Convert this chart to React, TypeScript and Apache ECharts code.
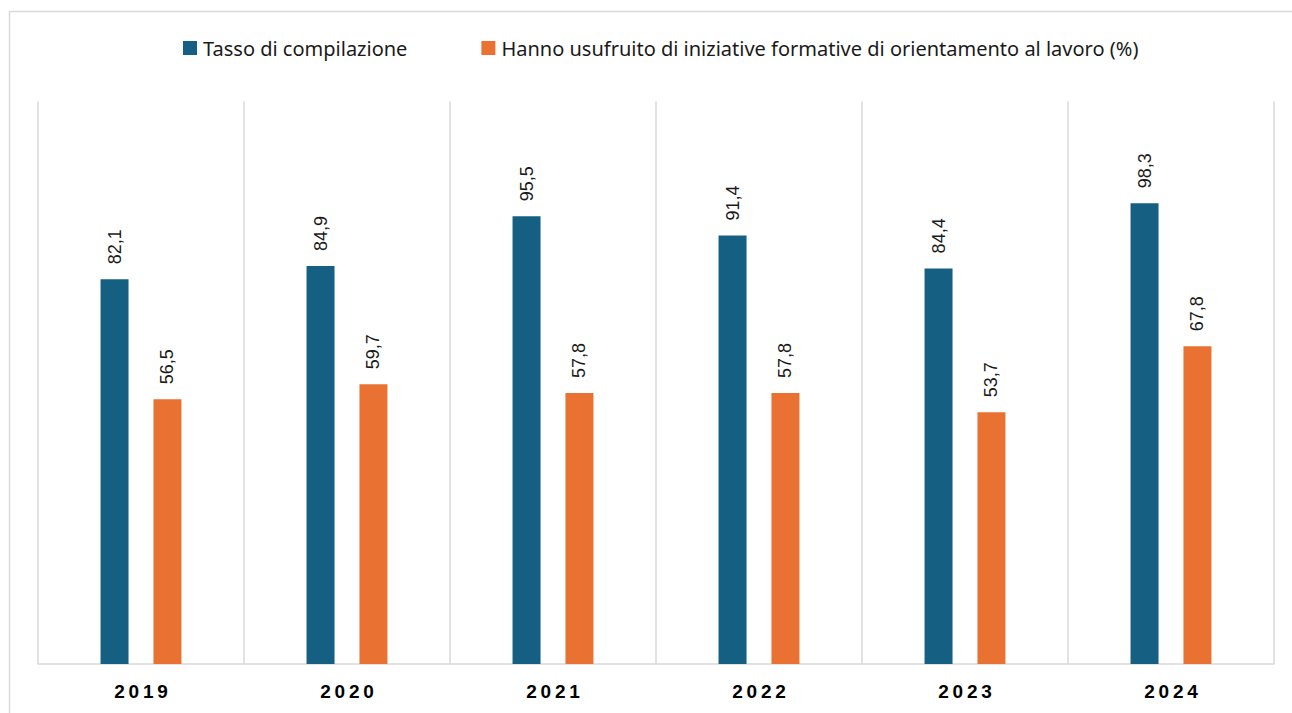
import React, { useEffect, useRef } from "react";
import * as echarts from "echarts";

const categories = ["2019", "2020", "2021", "2022", "2023", "2024"];
const tassoCompilazione = [82.1, 84.9, 95.5, 91.4, 84.4, 98.3];
const orientamentoLavoro = [56.5, 59.7, 57.8, 57.8, 53.7, 67.8];
const seriesNames = [
  "Tasso di compilazione",
  "Hanno usufruito di iniziative formative di orientamento al lavoro (%)",
];

const fmt = (v: number) => v.toFixed(1).replace(".", ",");
const spaced = (s: string) => s.split("").join("\u2009");

export default function App() {
  const ref = useRef<HTMLDivElement>(null);
  useEffect(() => {
    if (!ref.current) return;
    const chart = echarts.init(ref.current, undefined, { renderer: "svg" });
    const labelCfg = {
      show: true,
      position: "top" as const,
      rotate: 90,
      align: "left" as const,
      verticalAlign: "middle" as const,
      distance: 15,
      fontFamily: "Liberation Sans, Arial, sans-serif",
      fontSize: 18,
      color: "#1a1a1a",
      formatter: (p: any) => fmt(p.value),
    };
    chart.setOption({
      animation: false,
      backgroundColor: "#ffffff",
      graphic: [
        {
          type: "rect",
          shape: { x: 9.5, y: 11.5, width: 1320, height: 740 },
          style: { fill: "none", stroke: "#d9d9d9", lineWidth: 1.5 },
          silent: true,
          z: -10,
        },
      ],
      legend: {
        left: 178,
        top: 33,
        icon: "rect",
        itemWidth: 14,
        itemHeight: 14,
        itemGap: 74,
        textStyle: {
          fontFamily: "Noto Sans, sans-serif",
          fontSize: 20,
          color: "#1a1a1a",
          padding: [0, 0, 0, 1],
        },
        data: seriesNames,
      },
      grid: { left: 38, right: 18, top: 101.5, bottom: 49, containLabel: false },
      xAxis: {
        type: "category",
        data: categories,
        axisLine: { show: true, lineStyle: { color: "#d9d9d9", width: 1.5 } },
        axisTick: { show: false },
        splitLine: { show: true, lineStyle: { color: "#d9d9d9", width: 1.5 } },
        axisLabel: {
          margin: 18,
          fontFamily: "Liberation Sans, Arial, sans-serif",
          fontSize: 19,
          fontWeight: "bold",
          color: "#000000",
          formatter: (v: string) => spaced(v),
        },
      },
      yAxis: {
        type: "value",
        min: 0,
        max: 120,
        show: false,
        splitLine: { show: false },
      },
      series: [
        {
          name: seriesNames[0],
          type: "bar",
          data: tassoCompilazione,
          barWidth: 28,
          barGap: "89%",
          itemStyle: { color: "#156082" },
          label: labelCfg,
        },
        {
          name: seriesNames[1],
          type: "bar",
          data: orientamentoLavoro,
          barWidth: 28,
          itemStyle: { color: "#E97132" },
          label: labelCfg,
        },
      ],
    });
    return () => chart.dispose();
  }, []);
  return (
    <div
      ref={ref}
      style={{ position: "fixed", left: 0, top: 0, width: 1292, height: 713 }}
    />
  );
}
